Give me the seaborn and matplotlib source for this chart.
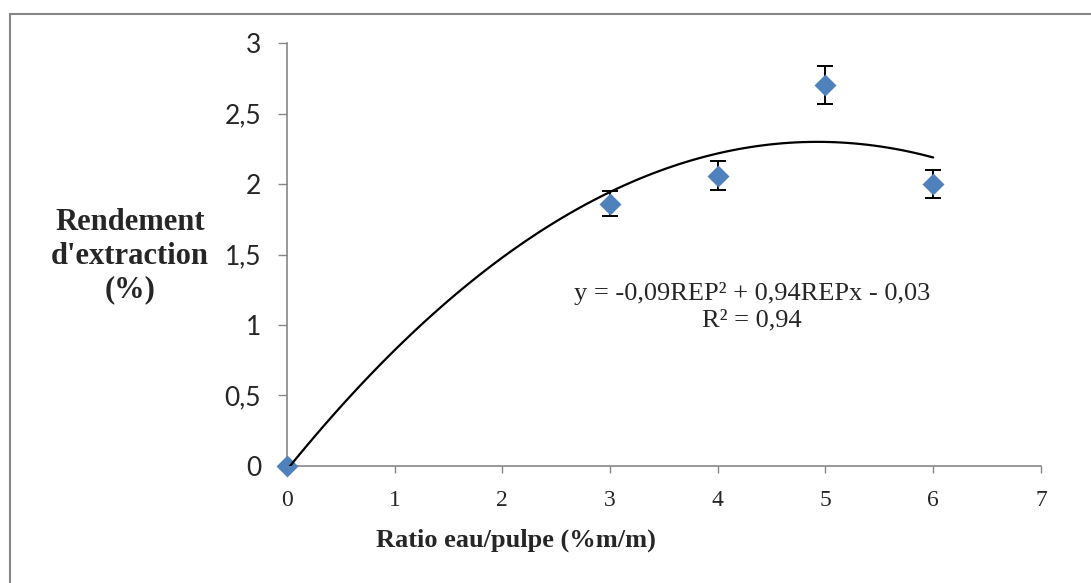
import numpy as np
import pandas as pd
import matplotlib
matplotlib.use("Agg")
import matplotlib.pyplot as plt
from matplotlib.lines import Line2D
import seaborn as sns

sns.set_style("white")
plt.rcParams['font.family'] = ['Liberation Serif', 'DejaVu Serif']

# donnees
ratio = [0, 3, 4, 5, 6]
rendement = [0, 1.86, 2.06, 2.70, 2.00]
erreur = [0, 0.09, 0.10, 0.135, 0.10]
xticks = [0, 1, 2, 3, 4, 5, 6, 7]
yticks = [0, 0.5, 1, 1.5, 2, 2.5, 3]
yticklabels = ['0', '0,5', '1', '1,5', '2', '2,5', '3']
equation = "y = -0,09REP² + 0,94REPx - 0,03\nR² = 0,94"

df = pd.DataFrame({'ratio': ratio, 'rendement': rendement, 'erreur': erreur})
gris = '#868686'
bleu = '#4F81BD'

fig = plt.figure(figsize=(10.91, 5.83), dpi=100)
ax = fig.add_axes([0.263, 0.2007, 0.6911, 0.7255])

# barres d'erreur (pas pour le point a 0)
err = df[df.erreur > 0]
ax.errorbar(err.ratio, err.rendement, yerr=err.erreur, fmt='none', ecolor='black',
            elinewidth=1.4, capsize=6, capthick=1.4, zorder=2)

sns.scatterplot(data=df, x='ratio', y='rendement', marker='D', s=125, color=bleu,
                linewidth=0, zorder=3, clip_on=False, ax=ax)

# courbe de tendance polynomiale (ordre 2)
sns.regplot(data=df, x='ratio', y='rendement', order=2, ci=None, scatter=False,
            truncate=True, color='black', line_kws={'lw': 1.6, 'zorder': 4}, ax=ax)

ax.set_xlim(0, 7)
ax.set_ylim(0, 3)
ax.set_xticks(xticks, [str(t) for t in xticks], fontsize=17)
ax.set_yticks(yticks, yticklabels, fontsize=19, fontfamily='Lato')

sns.despine(ax=ax)
for s in ['left', 'bottom']:
    ax.spines[s].set_color(gris)
    ax.spines[s].set_linewidth(1.2)
ax.tick_params(axis='x', bottom=True, direction='out', length=5, width=1, color=gris, pad=12)
ax.tick_params(axis='y', left=True, direction='out', length=6.5, width=1, color=gris, pad=12)

ax.set_xlabel('Ratio eau/pulpe (%m/m)', fontsize=19, fontweight='bold', va='center')
ax.xaxis.set_label_coords(0.304, -0.175)
ax.set_ylabel("Rendement\nd'extraction\n(%)", rotation=0, ha='center', va='center',
              fontsize=22, fontweight='bold', linespacing=1.2)
ax.yaxis.set_label_coords(-0.208, 0.496)

ax.text(4.32, 1.13, equation, ha='center', va='center', fontsize=19, linespacing=1.25)

# cadre du graphique
x0 = 10 / 1091
y0 = 1 - 14 / 583
fig.add_artist(Line2D([x0, x0], [0, y0], transform=fig.transFigure, color=gris, lw=1.5))
fig.add_artist(Line2D([x0, 1], [y0, y0], transform=fig.transFigure, color=gris, lw=1.5))

fig.savefig('out.png', dpi=100)
